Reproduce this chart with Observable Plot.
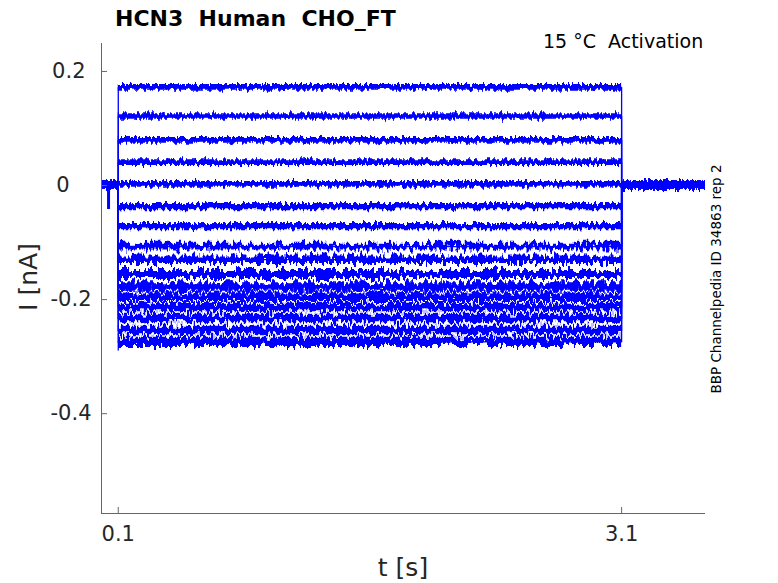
<!DOCTYPE html>
<html><head><meta charset="utf-8">
<script src="https://cdn.jsdelivr.net/npm/d3@7"></script>
<script src="https://cdn.jsdelivr.net/npm/@observablehq/plot@0.6"></script>
<style>html,body{margin:0;padding:0;background:#fff;} svg{font-family:"DejaVu Sans",sans-serif;}</style>
</head><body><div id="chart"></div>
<script>
const titleText = "HCN3  Human  CHO_FT";
const subtitleText = "15 °C  Activation";
const sideText = "BBP Channelpedia ID 34863 rep 2";
const xLabel = "t [s]";
const yLabel = "I [nA]";
const xTicks = [0.1, 3.1];
const xTickLabels = ["0.1", "3.1"];
const yTicks = [0.2, 0, -0.2, -0.4];
const yTickLabels = ["0.2", "0", "-0.2", "-0.4"];
const xDomain = [0, 3.6];
const yDomain = [-0.575, 0.249];
const stepOn = 0.1, stepOff = 3.1, recordEnd = 3.6;
const holdLevel = 0;
const traceLevels = [0.172, 0.121, 0.079, 0.040, 0.002, -0.037, -0.072, -0.107, -0.130, -0.156, -0.178, -0.196, -0.214, -0.233, -0.254, -0.274];
const traceNoise = [0.005, 0.005, 0.005, 0.005, 0.005, 0.0055, 0.0055, 0.006, 0.0065, 0.007, 0.0075, 0.0075, 0.0075, 0.0075, 0.0075, 0.008];
const holdNoise = 0.0075;
const artifactTime = 0.042, artifactLevel = -0.042;
const onsetDip = -0.29;

const blue = "#0000ff";
const upperCount = 7;
const yLabelOffsets = [-16, -32, -10, -10];

const holdData = [];
traceLevels.forEach((lv, k) => {
  [[0, stepOn], [stepOff, recordEnd]].forEach((seg, s) => {
    seg.forEach(t => holdData.push({t, lo: holdLevel - holdNoise, hi: holdLevel + holdNoise, z: k * 2 + s}));
  });
});
const bandData = [];
traceLevels.forEach((lv, k) => {
  [stepOn, stepOff].forEach(t => bandData.push({t, lo: lv - traceNoise[k], hi: lv + traceNoise[k], k, upper: k < upperCount}));
});
const stepData = [];
traceLevels.forEach((lv, k) => {
  stepData.push({t: stepOn, i: holdLevel, k}, {t: stepOn, i: lv, k}, {t: stepOff, i: lv, k}, {t: stepOff, i: holdLevel, k});
});

const chart = Plot.plot({
  width: 778, height: 583,
  marginLeft: 101, marginRight: 73, marginTop: 43, marginBottom: 70,
  style: {fontFamily: '"DejaVu Sans", sans-serif', background: "#fff"},
  x: {domain: xDomain},
  y: {domain: yDomain},
  marks: [
    Plot.areaY(holdData, {x: "t", y1: "lo", y2: "hi", z: "z", fill: blue}),
    Plot.areaY(bandData.filter(d => d.upper), {x: "t", y1: "lo", y2: "hi", z: "k", fill: blue}),
    Plot.areaY(bandData.filter(d => !d.upper), {x: "t", y1: "lo", y2: "hi", z: "k", fill: blue}),
    Plot.line(stepData, {x: "t", y: "i", z: "k", stroke: blue, strokeWidth: 1.3}),
    Plot.ruleX([stepOn], {y1: traceLevels[traceLevels.length - 1], y2: onsetDip, stroke: blue, strokeWidth: 1.3}),
    Plot.ruleX([artifactTime], {y1: holdLevel, y2: artifactLevel, stroke: blue, strokeWidth: 3}),
    Plot.ruleX([xDomain[0]], {stroke: "#666", strokeWidth: 1}),
    Plot.ruleY([yDomain[0]], {stroke: "#666", strokeWidth: 1}),
    Plot.axisY(yTicks, {anchor: "left", tickSize: -6, tickFormat: () => "", label: null, stroke: "#666"}),
    ...yTicks.map((v, i) => Plot.text([v], {x: xDomain[0], y: d => d, text: () => yTickLabels[i],
      textAnchor: "end", dx: yLabelOffsets[i], fontSize: 21, fill: "#262626"})),
    Plot.axisX(xTicks, {anchor: "bottom", tickSize: -6, tickPadding: 19, fontSize: 21, label: null,
      tickFormat: d => xTickLabels[xTicks.indexOf(d)], stroke: "#666", fill: "#262626"})
  ]
});
document.getElementById("chart").appendChild(chart);

const svg = d3.select(chart);
const defs = svg.insert("defs", ":first-child");
function mkFilter(id, scale, seed, freq) {
  const f = defs.append("filter").attr("id", id).attr("filterUnits", "userSpaceOnUse")
    .attr("x", 0).attr("y", 0).attr("width", 778).attr("height", 583);
  f.append("feTurbulence").attr("type", "fractalNoise").attr("baseFrequency", freq)
    .attr("numOctaves", 2).attr("seed", seed).attr("result", "noise");
  f.append("feColorMatrix").attr("in", "noise").attr("type", "matrix")
    .attr("values", "0 0 0 0 0.5  0 1 0 0 0  0 0 0 0 0  0 0 0 0 1").attr("result", "map");
  f.append("feDisplacementMap").attr("in", "SourceGraphic").attr("in2", "map")
    .attr("scale", scale).attr("xChannelSelector", "R").attr("yChannelSelector", "G");
}
mkFilter("jitHold", 8, 2, "0.45 0.06");
mkFilter("jitUp", 9, 5, "0.4 0.06");
mkFilter("jitLow", 16, 7, "0.3 0.08");
const areas = svg.selectAll('g[aria-label="area"]').nodes();
if (areas[0]) areas[0].setAttribute("filter", "url(#jitHold)");
if (areas[1]) areas[1].setAttribute("filter", "url(#jitUp)");
if (areas[2]) areas[2].setAttribute("filter", "url(#jitLow)");

const txt = (x, y, s, size, opts = {}) => {
  const t = svg.append("text").attr("x", x).attr("y", y).attr("font-size", size)
    .attr("fill", opts.fill || "#262626").attr("text-anchor", opts.anchor || "start")
    .style("white-space", "pre").text(s);
  if (opts.weight) t.attr("font-weight", opts.weight);
  if (opts.rotate) t.attr("transform", `rotate(-90 ${x} ${y})`);
  return t;
};
txt(115, 26, titleText, 22, {weight: "bold", fill: "#000"});
txt(543, 48, subtitleText, 19, {fill: "#000"});
txt(721, 279, sideText, 13.5, {anchor: "middle", rotate: true, fill: "#000"});
txt(37, 277, yLabel, 25, {anchor: "middle", rotate: true});
txt(403, 576, xLabel, 25, {anchor: "middle"});
</script>
</body></html>
